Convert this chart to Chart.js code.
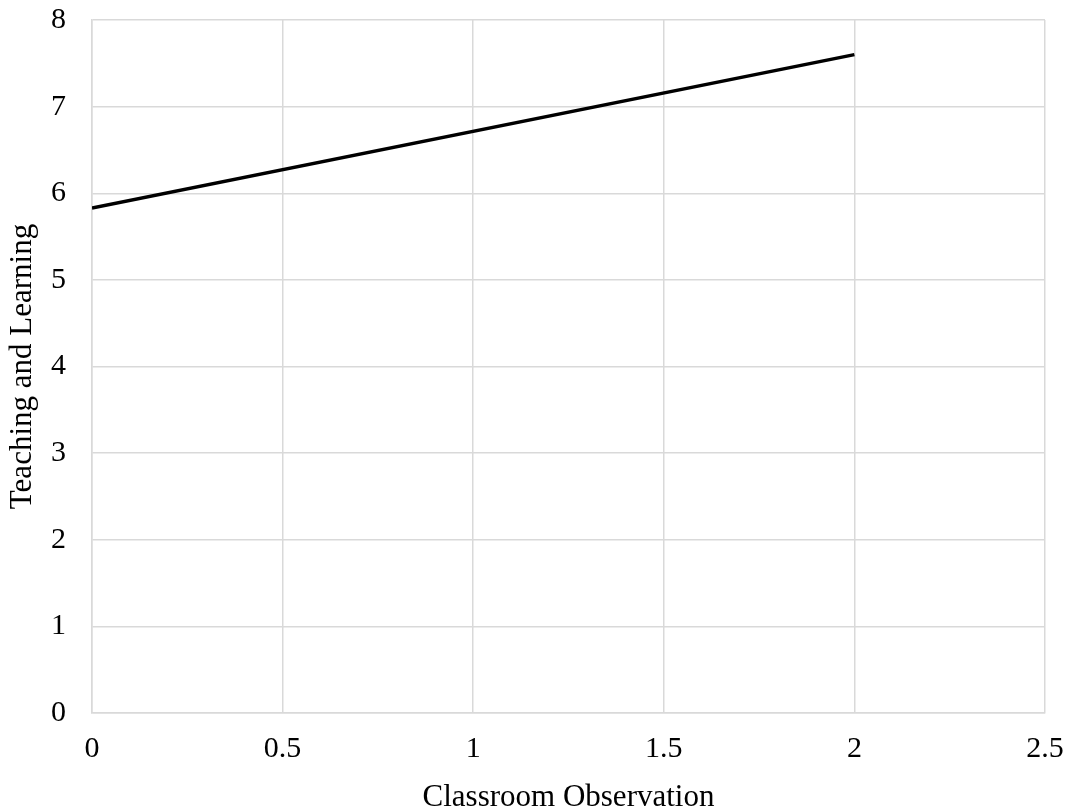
<!DOCTYPE html>
<html>
<head>
<meta charset="utf-8">
<script src="https://cdn.jsdelivr.net/npm/chart.js@4"></script>
<style>
html,body{margin:0;padding:0;background:#fff;}
#wrap{width:1074px;height:810px;position:relative;}
</style>
</head>
<body>
<div id="wrap"><canvas id="c" width="1074" height="810"></canvas></div>
<script>
const xValues = [0, 2];
const yValues = [5.83, 7.60];
const xTitle = "Classroom Observation";
const yTitle = "Teaching and Learning";

const points = xValues.map((x, i) => ({x: x, y: yValues[i]}));
const FAM = "'Liberation Serif', 'Times New Roman', serif";
const gridColor = '#d9d9d9';

new Chart(document.getElementById('c'), {
  type: 'scatter',
  data: {
    datasets: [{
      data: points,
      showLine: true,
      borderColor: '#000',
      borderWidth: 3.5,
      pointRadius: 0,
      fill: false
    }]
  },
  options: {
    responsive: false,
    animation: false,
    devicePixelRatio: 1,
    layout: {padding: {left: 0, right: 29, top: 20, bottom: 0}},
    plugins: {legend: {display: false}, tooltip: {enabled: false}},
    scales: {
      x: {
        type: 'linear', min: 0, max: 2.5,
        ticks: {stepSize: 0.5, color: '#000', font: {family: FAM, size: 30}, padding: 18, maxRotation: 0,
                callback: v => String(Number(v.toFixed(1)))},
        grid: {color: gridColor, lineWidth: 1.5, drawTicks: false},
        border: {color: gridColor, width: 1.5},
        title: {display: true, text: xTitle, color: '#000', font: {family: FAM, size: 31}, padding: {top: 10, bottom: -6}},
        afterFit: s => { s.height = 97; s.paddingLeft = 0; s.paddingRight = 0; }
      },
      y: {
        min: 0, max: 8,
        ticks: {stepSize: 1, color: '#000', font: {family: FAM, size: 30}, padding: 26},
        grid: {color: gridColor, lineWidth: 1.5, drawTicks: false},
        border: {color: gridColor, width: 1.5},
        title: {display: true, text: yTitle, color: '#000', font: {family: FAM, size: 31}, padding: {top: 4, bottom: 0}},
        afterFit: s => { s.width = 92; s.paddingTop = 0; s.paddingBottom = 0; }
      }
    }
  }
});
</script>
</body>
</html>
